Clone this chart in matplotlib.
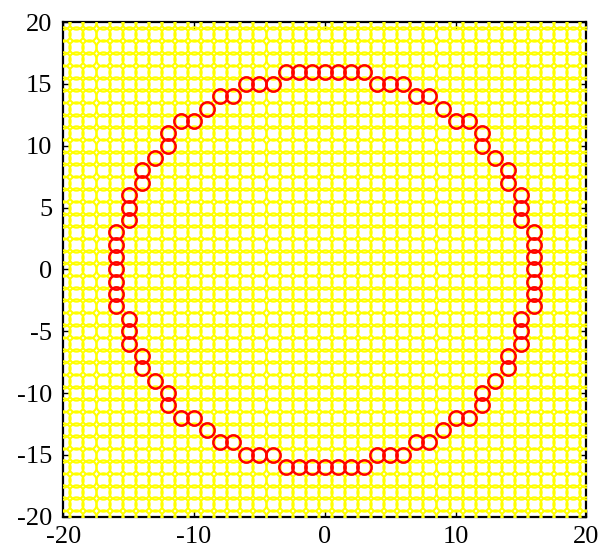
import matplotlib
matplotlib.use("Agg")
import matplotlib.pyplot as plt
import numpy as np

# Background grid of points (integer lattice from -20 to 20)
grid_vals = list(range(-20, 21))

# Highlighted circle points (radius ~16 lattice circle)
red_x = [0, 1, 2, 3, 4, 5, 6, 7, 8, 9, 10, 11, 12, 12, 13, 14, 14, 15, 15, 15, 16, 16, 16,
         16, 16, 16, 16, 15, 15, 15, 14, 14, 13, 12, 12, 11, 10, 9, 8, 7, 6, 5, 4, 3, 2, 1,
         0, -1, -2, -3, -4, -5, -6, -7, -8, -9, -10, -11, -12, -12, -13, -14, -14, -15, -15, -15, -16, -16, -16,
         -16, -16, -16, -16, -15, -15, -15, -14, -14, -13, -12, -12, -11, -10, -9, -8, -7, -6, -5, -4, -3, -2, -1]
red_y = [16, 16, 16, 16, 15, 15, 15, 14, 14, 13, 12, 12, 11, 10, 9, 8, 7, 6, 5, 4, 3, 2, 1,
         0, -1, -2, -3, -4, -5, -6, -7, -8, -9, -10, -11, -12, -12, -13, -14, -14, -15, -15, -15, -16, -16, -16,
         -16, -16, -16, -16, -15, -15, -15, -14, -14, -13, -12, -12, -11, -10, -9, -8, -7, -6, -5, -4, -3, -2, -1,
         0, 1, 2, 3, 4, 5, 6, 7, 8, 9, 10, 11, 12, 12, 13, 14, 14, 15, 15, 15, 16, 16, 16]

xticks = [-20, -10, 0, 10, 20]
yticks = [-20, -15, -10, -5, 0, 5, 10, 15, 20]

plt.rcParams['font.family'] = ['Liberation Serif', 'DejaVu Serif']

fig = plt.figure(figsize=(6.03, 5.52), dpi=100)
ax = fig.add_axes([0.105, 0.064, 0.8675, 0.896])

gx, gy = np.meshgrid(grid_vals, grid_vals)
ax.plot(gx.ravel(), gy.ravel(), linestyle='none', marker='o', markersize=10.3,
        markerfacecolor='none', markeredgecolor=(1, 1, 0), markeredgewidth=1.5, zorder=3)
ax.plot(red_x, red_y, linestyle='none', marker='o', markersize=10.3,
        markerfacecolor='none', markeredgecolor=(1, 0, 0), markeredgewidth=1.8, zorder=4)

ax.set_xlim(-20, 20)
ax.set_ylim(-20, 20)
ax.set_xticks(xticks)
ax.set_yticks(yticks)
ax.set_xticklabels([str(v) for v in xticks])
ax.set_yticklabels([str(v) for v in yticks])
ax.tick_params(direction='in', length=5, width=1, top=True, right=True,
               labelsize=19, pad=8, color='black')
ax.tick_params(axis='x', pad=7)
for s in ax.spines.values():
    s.set_linewidth(1.6)
    s.set_color('black')
    s.set_zorder(2.5)

fig.savefig('out.png', dpi=100)
